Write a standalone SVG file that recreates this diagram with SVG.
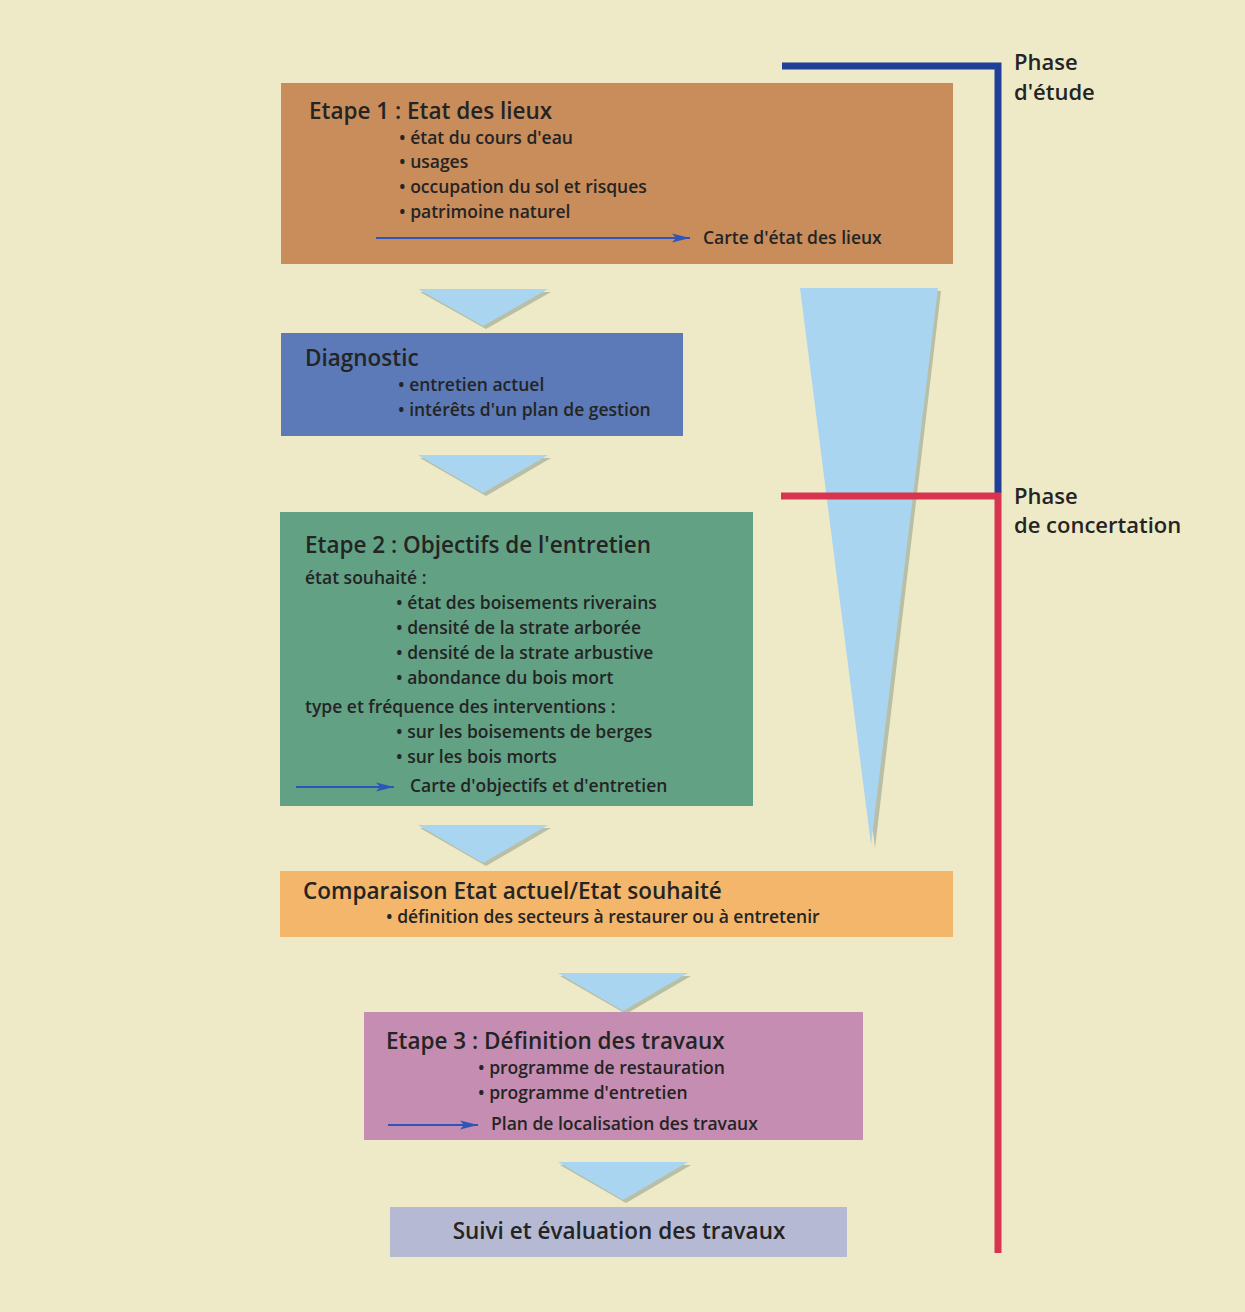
<svg xmlns="http://www.w3.org/2000/svg" width="1245" height="1312" viewBox="0 0 1245 1312">
<style>
  text { font-family: "Open Sans", "Noto Sans", "DejaVu Sans", sans-serif; fill: #242424; font-weight: 600; }
  .title { font-size: 22.5px; }
  .item { font-size: 17.5px; }
  .phase { font-size: 22px; }
  .flow { fill: #a9d5f1; }
  .shadow { fill: #8d9a86; opacity: 0.55; }
  .arrow { stroke: #2f55b8; stroke-width: 2.2; fill: none; marker-end: url(#ah); }
</style>
<defs>
  <marker id="ah" markerUnits="userSpaceOnUse" markerWidth="20" markerHeight="10" refX="18" refY="5" orient="auto">
    <path d="M0,0.5 L18,5 L0,9.5 L4,5 Z" fill="#2f55b8"/>
  </marker>
</defs>
<rect x="0" y="0" width="1245" height="1312" fill="#eeeac7"/>

<g id="wedge">
  <polygon points="805,291 941,291 875,848" class="shadow"/>
  <polygon points="800,288 938,288 871,845" class="flow"/>
</g>

<g id="connectors">
  <g id="flow-arrows">
    <polygon points="420,292 551,292 486,329" class="shadow"/>
    <polygon points="418,289 548,289 483,326" class="flow"/>
    <polygon points="420,458 551,458 486,496" class="shadow"/>
    <polygon points="418,455 548,455 483,493" class="flow"/>
    <polygon points="420,828 551,828 486,866" class="shadow"/>
    <polygon points="418,825 548,825 483,863" class="flow"/>
    <polygon points="560,976 691,976 626,1014" class="shadow"/>
    <polygon points="558,973 688,973 623,1011" class="flow"/>
    <polygon points="560,1165 691,1165 626,1203" class="shadow"/>
    <polygon points="558,1162 688,1162 623,1200" class="flow"/>
  </g>
  <g id="phase-lines">
    <polyline points="782,66 998,66 998,493" fill="none" stroke="#1f3f98" stroke-width="7"/>
    <polyline points="781,496 998,496 998,1253" fill="none" stroke="#d8344f" stroke-width="7"/>
  </g>
</g>

<g id="etape1">
  <rect x="281" y="83" width="672" height="181" fill="#c98c5b"/>
  <text x="309" y="119" class="title">Etape 1 : Etat des lieux</text>
  <text x="399" y="144" class="item">• état du cours d'eau</text>
  <text x="399" y="168" class="item">• usages</text>
  <text x="399" y="193" class="item">• occupation du sol et risques</text>
  <text x="399" y="218" class="item">• patrimoine naturel</text>
  <line x1="376" y1="238" x2="690" y2="238" class="arrow"/>
  <text x="703" y="244" class="item">Carte d'état des lieux</text>
</g>

<g id="diagnostic">
  <rect x="281" y="333" width="402" height="103" fill="#5b7ab7"/>
  <text x="305" y="366" class="title">Diagnostic</text>
  <text x="398" y="391" class="item">• entretien actuel</text>
  <text x="398" y="416" class="item">• intérêts d'un plan de gestion</text>
</g>

<g id="etape2">
  <rect x="280" y="512" width="473" height="294" fill="#62a184"/>
  <text x="305" y="553" class="title">Etape 2 : Objectifs de l'entretien</text>
  <text x="305" y="584" class="item">état souhaité :</text>
  <text x="396" y="609" class="item">• état des boisements riverains</text>
  <text x="396" y="634" class="item">• densité de la strate arborée</text>
  <text x="396" y="659" class="item">• densité de la strate arbustive</text>
  <text x="396" y="684" class="item">• abondance du bois mort</text>
  <text x="305" y="713" class="item">type et fréquence des interventions :</text>
  <text x="396" y="738" class="item">• sur les boisements de berges</text>
  <text x="396" y="763" class="item">• sur les bois morts</text>
  <line x1="296" y1="787" x2="394" y2="787" class="arrow"/>
  <text x="410" y="792" class="item">Carte d'objectifs et d'entretien</text>
</g>

<g id="comparaison">
  <rect x="280" y="871" width="673" height="66" fill="#f3b66b"/>
  <text x="303" y="899" class="title">Comparaison Etat actuel/Etat souhaité</text>
  <text x="386" y="923" class="item">• définition des secteurs à restaurer ou à entretenir</text>
</g>

<g id="etape3">
  <rect x="364" y="1012" width="499" height="128" fill="#c48db1"/>
  <text x="386" y="1049" class="title">Etape 3 : Définition des travaux</text>
  <text x="478" y="1074" class="item">• programme de restauration</text>
  <text x="478" y="1099" class="item">• programme d'entretien</text>
  <line x1="388" y1="1125" x2="478" y2="1125" class="arrow"/>
  <text x="491" y="1130" class="item">Plan de localisation des travaux</text>
</g>

<g id="suivi">
  <rect x="390" y="1207" width="457" height="50" fill="#b5b9d4"/>
  <text x="619" y="1239" class="title" text-anchor="middle">Suivi et évaluation des travaux</text>
</g>

<g id="phase-etude">
  <text x="1014" y="70" class="phase">Phase</text>
  <text x="1014" y="100" class="phase">d'étude</text>
</g>

<g id="phase-concertation">
  <text x="1014" y="504" class="phase">Phase</text>
  <text x="1014" y="533" class="phase">de concertation</text>
</g>
</svg>
